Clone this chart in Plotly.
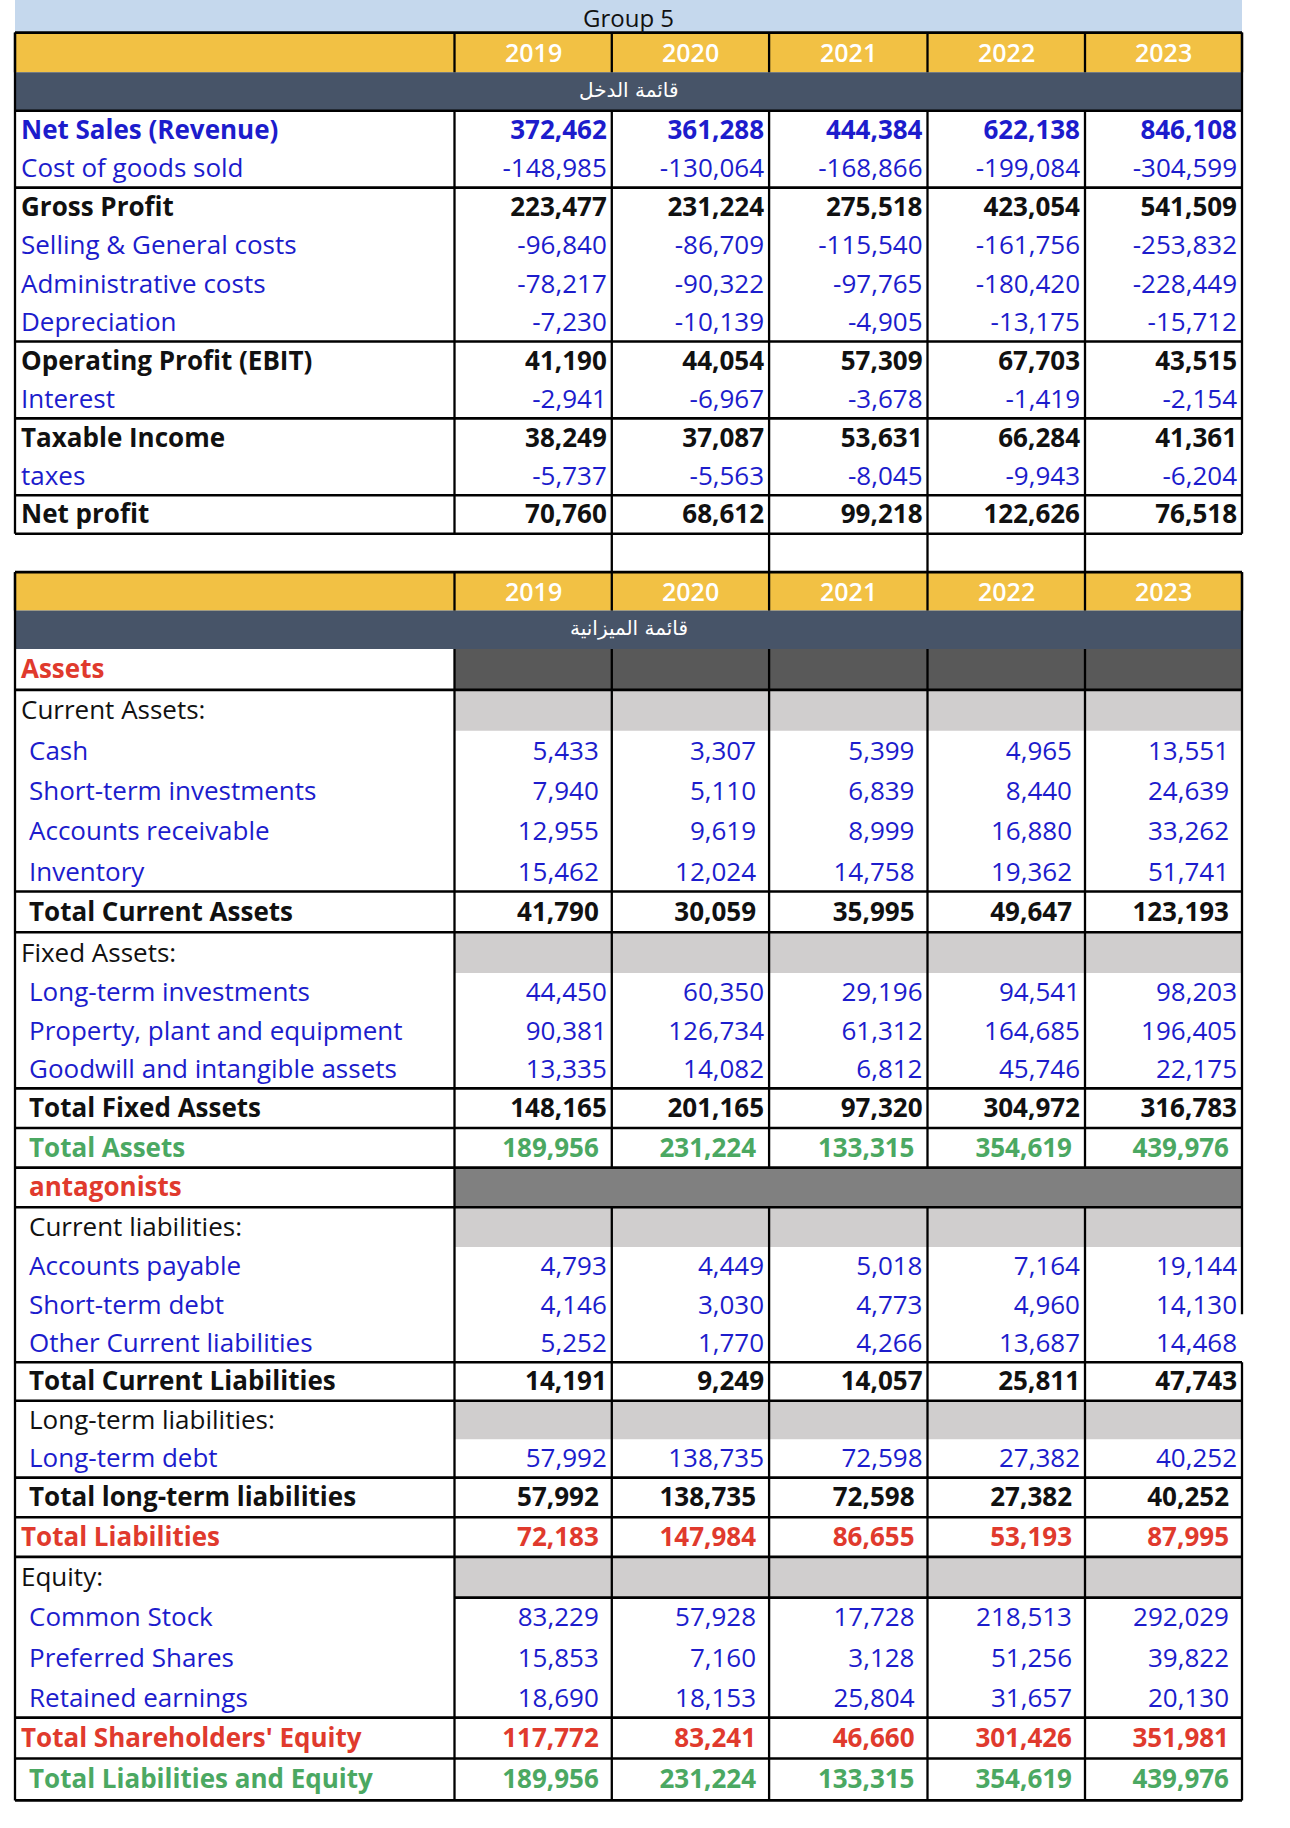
import plotly.graph_objects as go

# ---------------- DATA ----------------
years = [2019, 2020, 2021, 2022, 2023]
title_text = "Group 5"
income_title = "قائمة الدخل"
balance_title = "قائمة الميزانية"

income_labels = ["Net Sales (Revenue)", "Cost of goods sold", "Gross Profit",
                 "Selling & General costs", "Administrative costs", "Depreciation",
                 "Operating Profit (EBIT)", "Interest", "Taxable Income", "taxes", "Net profit"]
net_sales = [372462, 361288, 444384, 622138, 846108]
cogs = [-148985, -130064, -168866, -199084, -304599]
gross_profit = [223477, 231224, 275518, 423054, 541509]
selling_general = [-96840, -86709, -115540, -161756, -253832]
administrative = [-78217, -90322, -97765, -180420, -228449]
depreciation = [-7230, -10139, -4905, -13175, -15712]
ebit = [41190, 44054, 57309, 67703, 43515]
interest = [-2941, -6967, -3678, -1419, -2154]
taxable_income = [38249, 37087, 53631, 66284, 41361]
taxes = [-5737, -5563, -8045, -9943, -6204]
net_profit = [70760, 68612, 99218, 122626, 76518]

balance_labels = ["Assets", "Current Assets:", "Cash", "Short-term investments",
                  "Accounts receivable", "Inventory", "Total Current Assets", "Fixed Assets:",
                  "Long-term investments", "Property, plant and equipment",
                  "Goodwill and intangible assets", "Total Fixed Assets", "Total Assets",
                  "antagonists", "Current liabilities:", "Accounts payable", "Short-term debt",
                  "Other Current liabilities", "Total Current Liabilities",
                  "Long-term liabilities:", "Long-term debt", "Total long-term liabilities",
                  "Total Liabilities", "Equity:", "Common Stock", "Preferred Shares",
                  "Retained earnings", "Total Shareholders' Equity", "Total Liabilities and Equity"]
cash = [5433, 3307, 5399, 4965, 13551]
short_term_inv = [7940, 5110, 6839, 8440, 24639]
accounts_receivable = [12955, 9619, 8999, 16880, 33262]
inventory = [15462, 12024, 14758, 19362, 51741]
total_current_assets = [41790, 30059, 35995, 49647, 123193]
long_term_inv = [44450, 60350, 29196, 94541, 98203]
ppe = [90381, 126734, 61312, 164685, 196405]
goodwill = [13335, 14082, 6812, 45746, 22175]
total_fixed_assets = [148165, 201165, 97320, 304972, 316783]
total_assets = [189956, 231224, 133315, 354619, 439976]
accounts_payable = [4793, 4449, 5018, 7164, 19144]
short_term_debt = [4146, 3030, 4773, 4960, 14130]
other_current_liab = [5252, 1770, 4266, 13687, 14468]
total_current_liab = [14191, 9249, 14057, 25811, 47743]
long_term_debt = [57992, 138735, 72598, 27382, 40252]
total_long_term_liab = [57992, 138735, 72598, 27382, 40252]
total_liabilities = [72183, 147984, 86655, 53193, 87995]
common_stock = [83229, 57928, 17728, 218513, 292029]
preferred_shares = [15853, 7160, 3128, 51256, 39822]
retained_earnings = [18690, 18153, 25804, 31657, 20130]
total_equity = [117772, 83241, 46660, 301426, 351981]
total_liab_equity = [189956, 231224, 133315, 354619, 439976]

income_values = [net_sales, cogs, gross_profit, selling_general, administrative, depreciation,
                 ebit, interest, taxable_income, taxes, net_profit]
balance_values = [None, None, cash, short_term_inv, accounts_receivable, inventory,
                  total_current_assets, None, long_term_inv, ppe, goodwill, total_fixed_assets,
                  total_assets, None, None, accounts_payable, short_term_debt, other_current_liab,
                  total_current_liab, None, long_term_debt, total_long_term_liab,
                  total_liabilities, None, common_stock, preferred_shares, retained_earnings,
                  total_equity, total_liab_equity]

# ---------------- STYLE / LAYOUT ----------------
W, H = 1290, 1828
S = 1290 / 1107.0
FONT = "Open Sans"
FS = 26
TY = 2.5                 # small downward nudge of text in rows
COL = {
    "blue": "#1c1ccc", "black": "#111111", "green": "#4ba862", "red": "#e03a2d",
}
GOLD = "#f2c144"
SLATE = "#475468"
BAND = "#c5d8ed"
DARK = "#595959"
MID = "#808080"
LIGHT = "#d0cece"

X = [15, 454.5, 611.8, 769.1, 927.5, 1085.0, 1242.0]
L, C0, R = X[0], X[1], X[-1]

band_y = (0, 32.6)
inc_gold = (32.6, 72.3)
inc_slate = (72.3, 110.7)
inc_row_h = [33 * S] * len(income_labels)
bal_gold = (491 * S, 524 * S)
bal_slate = (524 * S, 557 * S)
bal_row_h_shrunk = [35, 35, 35, 34, 35, 34, 35, 35, 33, 33, 33, 34, 34, 34, 34, 33, 33, 33, 33,
                    33, 33, 34, 34, 35, 34, 35, 34, 35, 36]
bal_row_h = [h * S for h in bal_row_h_shrunk]

income_style = ["blue_b", "blue", "black_b", "blue", "blue", "blue", "black_b", "blue",
                "black_b", "blue", "black_b"]
balance_style = ["red_b", "black", "blue", "blue", "blue", "blue", "black_b", "black", "blue",
                 "blue", "blue", "black_b", "green_b", "red_b", "black", "blue", "blue", "blue",
                 "black_b", "black", "blue", "black_b", "red_b", "black", "blue", "blue", "blue",
                 "red_b", "green_b"]
balance_indent = [0, 0, 1, 1, 1, 1, 1, 0, 1, 1, 1, 1, 1, 1, 1, 1, 1, 1, 1, 1, 1, 1, 0, 0, 1, 1,
                  1, 0, 1]
balance_fill = {0: DARK, 13: MID, 1: LIGHT, 7: LIGHT, 14: LIGHT, 19: LIGHT, 23: LIGHT}
balance_tight = {8, 9, 10, 11, 15, 16, 17, 18, 20}


def edges(top, heights):
    out = [top]
    for h in heights:
        out.append(out[-1] + h)
    return out


inc_e = edges(inc_slate[1], inc_row_h)
bal_e = edges(bal_slate[1], bal_row_h)

shapes = []


def rect(x0, x1, y0, y1, color):
    shapes.append(dict(type="rect", xref="x", yref="y", x0=x0, x1=x1, y0=y0, y1=y1,
                       fillcolor=color, line=dict(width=0), layer="below"))


def hline(y, x0=L, x1=R, w=2.6):
    shapes.append(dict(type="line", xref="x", yref="y", x0=x0, x1=x1, y0=y, y1=y,
                       line=dict(color="#000000", width=w), layer="above"))


def vline(x, y0, y1, w=2.3):
    shapes.append(dict(type="line", xref="x", yref="y", x0=x, x1=x, y0=y0, y1=y1,
                       line=dict(color="#000000", width=w), layer="above"))


# fills
rect(L, R, band_y[0], band_y[1], BAND)
for g, s in ((inc_gold, inc_slate), (bal_gold, bal_slate)):
    rect(L, R, g[0], g[1], GOLD)
    rect(L, R, s[0], s[1], SLATE)
for i, c in balance_fill.items():
    rect(C0, R, bal_e[i], bal_e[i + 1], c)

# income borders
hline(inc_gold[0])
for k in [0, 2, 6, 8, 10, 11]:
    hline(inc_e[k])
for x in X:
    vline(x, inc_gold[0], inc_gold[1])
vline(L, inc_gold[0], inc_e[-1])
vline(R, inc_gold[0], inc_e[-1])
vline(C0, inc_e[0], inc_e[-1])
for x in X[2:6]:
    vline(x, inc_e[0], bal_gold[0])

# balance borders
hline(bal_gold[0])
for k in [1, 6, 7, 11, 12, 13, 14, 18, 19, 21, 22, 23, 27, 28, 29]:
    hline(bal_e[k])
hline(bal_e[24], x0=C0)
for x in X:
    vline(x, bal_gold[0], bal_gold[1])
vline(L, bal_gold[0], bal_e[-1])
vline(R, bal_gold[0], bal_e[16] + bal_row_h[16] * 0.75)
vline(R, bal_e[18], bal_e[-1])
vline(C0, bal_e[0], bal_e[-1])
for x in X[2:6]:
    vline(x, bal_e[0], bal_e[13])
    vline(x, bal_e[14], bal_e[-1])


def fmt(v, bold):
    s = f"{v:,}"
    return f"<b>{s}</b>" if bold else s


fig = go.Figure()


def add_text(xs, ys, texts, colors, pos):
    fig.add_trace(go.Scatter(x=xs, y=ys, mode="text", text=texts, textposition=pos,
                             textfont=dict(family=FONT, size=FS, color=colors),
                             hoverinfo="skip", showlegend=False, cliponaxis=False))


# income text
inc_c = [(inc_e[i] + inc_e[i + 1]) / 2 + TY for i in range(len(income_labels))]
add_text([L + 6] * len(income_labels), inc_c,
         [f"<b>{t}</b>" if st.endswith("_b") else t for t, st in zip(income_labels, income_style)],
         [COL[st.split("_")[0]] for st in income_style], "middle right")
for j in range(len(years)):
    add_text([X[j + 2] - 5] * len(income_labels), inc_c,
             [fmt(vals[j], st.endswith("_b")) for vals, st in zip(income_values, income_style)],
             [COL[st.split("_")[0]] for st in income_style], "middle left")

# balance text
bal_c = [(bal_e[i] + bal_e[i + 1]) / 2 + TY for i in range(len(balance_labels))]
add_text([L + (14 if ind else 6) for ind in balance_indent], bal_c,
         [f"<b>{t}</b>" if st.endswith("_b") else t for t, st in zip(balance_labels, balance_style)],
         [COL[st.split("_")[0]] for st in balance_style], "middle right")
rows = [i for i, v in enumerate(balance_values) if v is not None]
for j in range(len(years)):
    add_text([X[j + 2] - (5 if i in balance_tight else 13) for i in rows],
             [bal_c[i] for i in rows],
             [fmt(balance_values[i][j], balance_style[i].endswith("_b")) for i in rows],
             [COL[balance_style[i].split("_")[0]] for i in rows], "middle left")

annotations = [dict(x=(L + R) / 2, y=sum(band_y) / 2 + 1.5, text=title_text, showarrow=False,
                    xref="x", yref="y", font=dict(family=FONT, size=24, color="#111111"))]
for g, s, t in ((inc_gold, inc_slate, income_title), (bal_gold, bal_slate, balance_title)):
    for j, yr in enumerate(years):
        annotations.append(dict(x=(X[j + 1] + X[j + 2]) / 2, y=sum(g) / 2, text=str(yr),
                                showarrow=False, xref="x", yref="y",
                                font=dict(family=FONT, size=25, color="#ffffff", weight=650)))
    annotations.append(dict(x=(L + R) / 2, y=sum(s) / 2 - 2, text=t, showarrow=False,
                            xref="x", yref="y",
                            font=dict(family="DejaVu Sans", size=20, color="#ffffff")))

fig.update_layout(
    width=W, height=H, margin=dict(l=0, r=0, t=0, b=0),
    paper_bgcolor="white", plot_bgcolor="white",
    xaxis=dict(range=[0, W], visible=False, fixedrange=True),
    yaxis=dict(range=[H, 0], visible=False, fixedrange=True),
    shapes=shapes, annotations=annotations, showlegend=False,
)
fig.write_html("out.html", config={"displayModeBar": False},
               post_script="document.body.style.margin='0px';"
                           "document.body.style.overflow='hidden';")
